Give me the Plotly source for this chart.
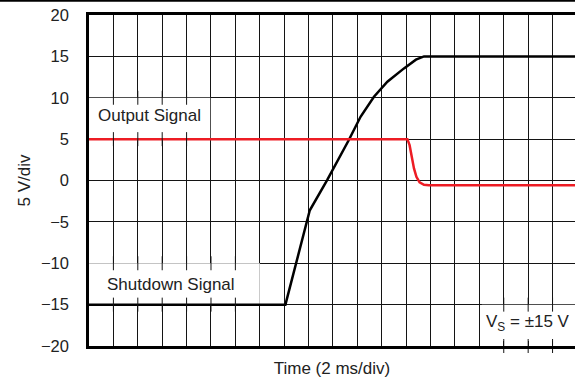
import plotly.graph_objects as go

# Time axis in divisions (2 ms/div), voltage in volts (5 V/div)
shutdown_t = [0, 8.05, 9.05, 9.56, 9.76, 10.65, 11.13, 11.68, 12.23, 12.91, 13.4, 13.73, 20]
shutdown_v = [-15, -15, -3.6, -0.96, 0.05, 4.89, 7.7, 10.12, 11.94, 13.55, 14.6, 15, 15]

output_t = [0, 13.05, 13.14, 13.22, 13.32, 13.42, 13.55, 13.73, 13.93, 20]
output_v = [5, 5, 4.27, 2.86, 1.46, 0.44, -0.23, -0.52, -0.56, -0.56]

y_ticks = [-20, -15, -10, -5, 0, 5, 10, 15, 20]

# graticule tick stubs along the edges of the label boxes
stub_divs_output = [1, 2, 3, 4]
stub_divs_shutdown = [1, 2, 3, 4, 5, 6]
stub_divs_vs = [17, 18, 19]

GRID = "rgb(20,20,20)"
RED = "#ED1C24"
FONT = "Liberation Sans, Arial, sans-serif"

fig = go.Figure()

fig.add_trace(go.Scatter(
    x=shutdown_t, y=shutdown_v, mode="lines",
    line=dict(color="black", width=2.5), hoverinfo="skip", showlegend=False,
))
fig.add_trace(go.Scatter(
    x=output_t, y=output_v, mode="lines",
    line=dict(color=RED, width=2.5), hoverinfo="skip", showlegend=False,
))

stub_x = (stub_divs_output * 2 + stub_divs_shutdown * 2 + stub_divs_vs * 2)
stub_y = ([10] * len(stub_divs_output) + [5] * len(stub_divs_output)
          + [-10] * len(stub_divs_shutdown) + [-15] * len(stub_divs_shutdown)
          + [-15] * len(stub_divs_vs) + [-20] * len(stub_divs_vs))
fig.add_trace(go.Scatter(
    x=stub_x, y=stub_y, mode="markers",
    marker=dict(symbol="line-ns", size=10, line=dict(color=GRID, width=1)),
    hoverinfo="skip", showlegend=False, cliponaxis=False,
))

# white boxes behind the labels (above grid, below traces)
boxes = [(0, 4.97, 5, 10), (0, 7.0, -15, -10), (16.1, 20, -20, -15)]
for x0, x1, y0, y1 in boxes:
    fig.add_shape(type="rect", xref="x", yref="y", x0=x0, x1=x1, y0=y0, y1=y1,
                  fillcolor="white", line=dict(width=0), layer="between")

fig.add_annotation(x=0.3, y=7.8, xref="x", yref="y", text="Output Signal",
                   showarrow=False, xanchor="left", yanchor="middle",
                   font=dict(size=17, color="#222"))
fig.add_annotation(x=0.64, y=-12.6, xref="x", yref="y", text="Shutdown Signal",
                   showarrow=False, xanchor="left", yanchor="middle",
                   font=dict(size=17, color="#222"))
fig.add_annotation(x=16.2, y=-17.2, xref="x", yref="y", text="V<sub>S</sub> = ±15 V",
                   showarrow=False, xanchor="left", yanchor="middle",
                   font=dict(size=17, color="#222"))

# rule across the top of the page
fig.add_shape(type="line", xref="paper", yref="paper",
              x0=-0.2, x1=1.05, y0=1.043, y1=1.043,
              line=dict(color="black", width=2))

fig.update_layout(
    width=575, height=383,
    margin=dict(l=89, r=0, t=15, b=37),
    paper_bgcolor="white", plot_bgcolor="white",
    font=dict(family=FONT, size=16, color="#222"),
    xaxis=dict(
        range=[0, 19.92], dtick=1, tick0=0,
        showgrid=True, gridcolor=GRID, gridwidth=1,
        showticklabels=False, ticks="inside", ticklen=5, tickcolor=GRID,
        showline=True, linecolor="black", linewidth=2.5, mirror=True,
        zeroline=False,
        title=dict(text="Time (2 ms/div)", standoff=15, font=dict(size=17)),
    ),
    yaxis=dict(
        range=[-20, 20], tickvals=y_ticks,
        showgrid=True, gridcolor=GRID, gridwidth=1,
        showline=True, linecolor="black", linewidth=2.5, mirror=False,
        zeroline=False, ticks="", ticklabelstandoff=14,
        tickfont=dict(size=16.5),
        title=dict(text="5 V/div", standoff=7, font=dict(size=17)),
    ),
)

fig.write_html("out.html")
